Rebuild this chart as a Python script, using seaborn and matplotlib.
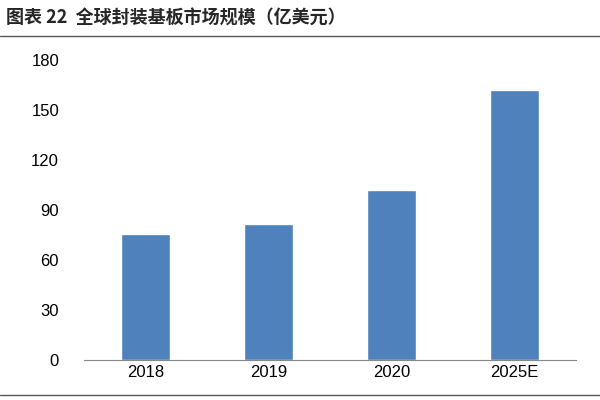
import matplotlib
matplotlib.use("Agg")
import matplotlib.pyplot as plt
import seaborn as sns
import pandas as pd

categories = ["2018", "2019", "2020", "2025E"]
values = [75.5, 81.5, 102, 162]
yticks = [0, 30, 60, 90, 120, 150, 180]

sns.set_style("white")
plt.rcParams['font.family'] = ['Liberation Sans', 'Noto Sans CJK SC', 'DejaVu Sans']

fig = plt.figure(figsize=(6, 4), dpi=100)
ax = fig.add_axes([0.14, 0.1, 0.82, 0.75])
df = pd.DataFrame({"year": categories, "v": values})
sns.barplot(data=df, x="year", y="v", color="#4F81BD", saturation=1, width=0.4, ax=ax)
ax.set_ylim(0, 180)
ax.set_yticks(yticks)
ax.set_xlabel("")
ax.set_ylabel("")
for s in ["top", "right", "left"]:
    ax.spines[s].set_visible(False)
ax.spines["bottom"].set_color("#888888")
ax.tick_params(axis="both", labelsize=12, length=0, colors="black")
ax.tick_params(axis="y", pad=18)
fig.text(0.01, 0.955, "图表 22  全球封装基板市场规模（亿美元）", fontsize=13, fontweight="bold",
         va="center", family=['Noto Sans CJK SC', 'DejaVu Sans'])
fig.add_artist(plt.Line2D([0, 1], [0.91, 0.91], color="#555555", lw=1))
fig.add_artist(plt.Line2D([0, 1], [0.012, 0.012], color="#555555", lw=1))
fig.savefig("out.png", dpi=100)
